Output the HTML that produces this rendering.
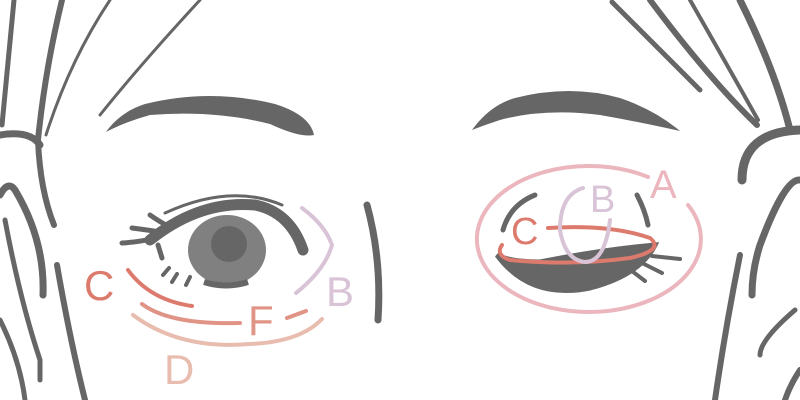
<!DOCTYPE html>
<html><head><meta charset="utf-8"><style>
html,body{margin:0;padding:0;background:#fff}
svg{display:block}
text{font-family:"Liberation Sans",sans-serif;font-weight:normal}
</style></head><body>
<svg width="800" height="400" viewBox="0 0 800 400" xmlns="http://www.w3.org/2000/svg">
<g fill="none" stroke="#666" stroke-linecap="round">
 <path d="M14 0 Q8 60 2 125" stroke-width="5"/>
 <path d="M62 0 Q45 70 38 140 Q40 190 54 225" stroke-width="6"/>
 <path d="M110 0 Q70 60 46 135" stroke-width="3"/>
 <path d="M200 0 Q140 65 100 115" stroke-width="3"/>
 <path d="M0 135 Q30 130 40 145" stroke-width="7"/>
 <path d="M0 195 Q8 180 15 190 Q45 240 43 295" stroke-width="7"/>
 <path d="M5 220 Q20 300 40 360 L40 380" stroke-width="5"/>
 <path d="M57 265 Q70 340 85 400" stroke-width="6"/>
 <path d="M0 320 Q20 360 25 400" stroke-width="5"/>
 <path d="M612 2 Q660 50 700 90" stroke-width="5"/>
 <path d="M650 0 Q710 80 757 125" stroke-width="6"/>
 <path d="M690 0 Q730 70 758 120" stroke-width="4"/>
 <path d="M740 0 Q775 70 790 130" stroke-width="7"/>
 <path d="M742 180 Q742 132 800 130" stroke-width="9"/>
 <path d="M800 180 Q785 178 760 245 Q752 270 752 295" stroke-width="7"/>
 <path d="M740 255 Q725 330 715 400" stroke-width="6"/>
 <path d="M795 310 Q760 340 760 355" stroke-width="5"/>
 <path d="M800 370 Q790 385 785 400" stroke-width="6"/>
 <path d="M367 205 Q382 260 378 320" stroke-width="7"/>
</g>
<path d="M106 132 Q120 112 145 104 Q210 88 275 104 Q310 115 314 135 Q300 138 270 124 Q215 110 150 115 Q125 122 106 132Z" fill="#666"/>
<path d="M472 130 Q490 105 515 98 Q570 84 620 98 Q655 110 680 131 Q640 122 600 115 Q545 108 500 120 Q482 126 472 130Z" fill="#666"/>
<ellipse cx="227" cy="250" rx="39" ry="35" fill="#808080"/>
<circle cx="229" cy="244" r="18" fill="#666"/>
<path d="M204 282 Q226 289 248 282" stroke="#666" stroke-width="6" fill="none"/>
<g fill="none" stroke="#666" stroke-linecap="round">
 <path d="M150 240 Q200 200 255 205 Q290 212 303 250" stroke-width="11"/>
 <path d="M165 213 Q230 183 282 205" stroke-width="3"/>
 <path d="M122 243 Q140 242 155 238" stroke-width="5"/>
 <path d="M132 228 Q148 230 160 232" stroke-width="5"/>
 <path d="M150 215 Q160 222 168 226" stroke-width="5"/>
 <path d="M158 245 L162 258" stroke-width="5"/>
 <path d="M163 275 L169 268" stroke-width="4"/>
 <path d="M172 282 L177 274" stroke-width="4"/>
 <path d="M186 285 L190 277" stroke-width="4"/>
</g>
<g fill="none" stroke-linecap="round" stroke-width="4">
 <path d="M128 270 Q150 300 192 306" stroke="#dc7b6d"/>
 <path d="M142 304 Q170 325 240 323" stroke="#e09486"/>
 <path d="M287 318 L306 311" stroke="#e09486"/>
 <path d="M133 315 Q180 350 250 344 Q300 342 322 319" stroke="#e8bcae"/>
 <path d="M302 208 Q325 225 332 245 Q325 270 296 293" stroke="#d9c3d7"/>
</g>
<text x="84" y="300" font-size="42" fill="#dc7b6d">C</text>
<text x="326" y="306" font-size="42" fill="#d9c3d7">B</text>
<text x="248" y="335" font-size="42" fill="#e09486">F</text>
<text x="164" y="384" font-size="42" fill="#e8bcae">D</text>
<g fill="none" stroke-linecap="round">
 <path d="M648 177 A112 73 0 1 0 688 205" stroke="#ebb6bd" stroke-width="4"/>
 <path d="M497 255 Q530 300 590 288 Q640 275 655 245 Q600 250 540 262 Q510 262 497 255Z" fill="#666" stroke="#666" stroke-width="5"/>
 <path d="M652 256 L680 259" stroke="#666" stroke-width="4"/>
 <path d="M640 262 L662 273" stroke="#666" stroke-width="4"/>
 <path d="M628 268 L645 281" stroke="#666" stroke-width="4"/>
 <path d="M535 195 Q510 205 503 230" stroke="#666" stroke-width="5"/>
 <path d="M637 195 Q645 210 648 225" stroke="#666" stroke-width="5"/>
 <path d="M548 228 Q610 224 650 238 Q665 250 630 258 Q570 266 510 260 Q495 255 502 245" stroke="#dc7b6d" stroke-width="4"/>
 <path d="M583 188 Q560 195 560 230 Q565 260 585 262 Q605 262 610 220" stroke="#d9c3d7" stroke-width="4"/>
</g>
<text x="511" y="244" font-size="38" fill="#dc7b6d">C</text>
<text x="590" y="212" font-size="38" fill="#d9c3d7">B</text>
<text x="650" y="198" font-size="40" fill="#ebb6bd">A</text>
</svg>
</body></html>
